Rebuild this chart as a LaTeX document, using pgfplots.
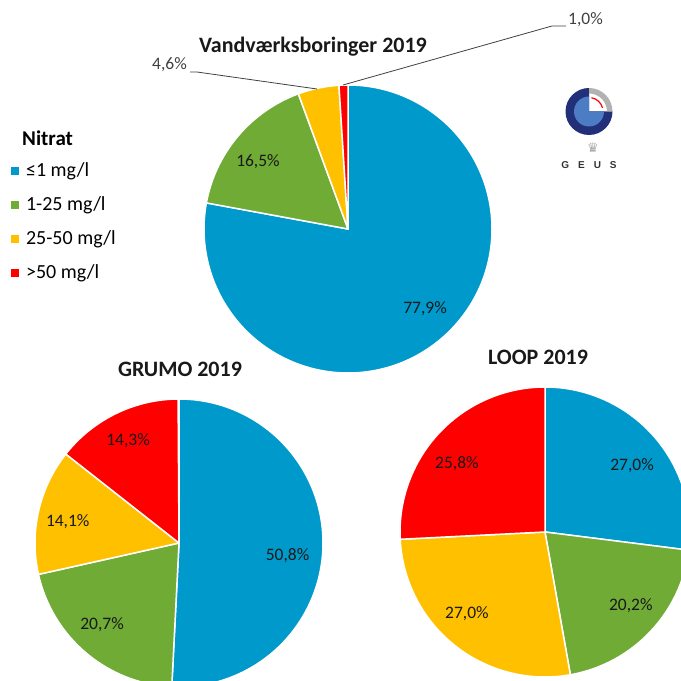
\documentclass[border=0pt]{standalone}
\usepackage{pgfplots}
\usepackage{pgfplotstable}
\usepackage{fontspec}
\setmainfont{Carlito}
\newfontfamily\geusfont{Liberation Sans}
\newfontfamily\symfont{DejaVu Sans}
\pgfplotsset{compat=1.18}

\definecolor{cLow}{HTML}{0099CC}
\definecolor{cMid}{HTML}{6FAB35}
\definecolor{cHigh}{HTML}{FFC000}
\definecolor{cTop}{HTML}{FF0000}
\definecolor{lead}{HTML}{404040}
\definecolor{geusnavy}{HTML}{22307A}
\definecolor{geusblue}{HTML}{4C7CC4}

\tikzset{
  pielabel/.style={font=\fontsize{17.5}{20}\selectfont, text height=0.63em,
    text depth=0pt, inner sep=0pt, text=black!90},
  charttitle/.style={font=\bfseries\fontsize{22}{26}\selectfont, text height=0.63em,
    text depth=0pt, inner sep=0pt, text=black!90},
}

% share in %, colour, shift of the label angle (deg), label radius (part of r, 0 = outside)
\pgfplotstableread{
v    col   shift  lr
77.9 cLow   3.8   0.776
16.5 cMid   3.9   0.775
4.6  cHigh  0     0
1.0  cTop   0     0
}\vandtab
\pgfplotstableread{
v    col   shift  lr
50.8 cLow  -6.0   0.76
20.7 cMid  -2.4   0.79
14.1 cHigh  2.6   0.785
14.3 cTop   0.7   0.785
}\grumotab
\pgfplotstableread{
v    col   shift  lr
27.0 cLow  -4.6   0.75
20.2 cMid   2.1   0.79
27.0 cHigh -4.7   0.786
25.8 cTop   6.3   0.763
}\looptab

% slices clockwise from 12 o'clock, as the spreadsheet draws them
\newcommand\drawpie[4]{% #1 table, #2 cx, #3 cy, #4 radius
  \pgfplotstablegetrowsof{#1}%
  \pgfmathtruncatemacro\pieN{\pgfplotsretval-1}%
  \def\pieA{90}%
  \pgfplotsforeachungrouped \k in {0,...,\pieN}{%
    \pgfplotstablegetelem{\k}{v}\of{#1}\let\pieV\pgfplotsretval
    \pgfplotstablegetelem{\k}{col}\of{#1}\let\pieC\pgfplotsretval
    \pgfplotstablegetelem{\k}{shift}\of{#1}\let\pieS\pgfplotsretval
    \pgfplotstablegetelem{\k}{lr}\of{#1}\let\pieL\pgfplotsretval
    \pgfmathsetmacro\pieB{\pieA-3.6*\pieV}%
    \edef\pietmp{\noexpand\fill[\pieC, draw=white, line width=1.5pt, line join=round]
      (axis cs:#2,#3) -- ++(\pieA:#4pt) arc[start angle=\pieA, end angle=\pieB, radius=#4pt] -- cycle;}%
    \pietmp
    \ifdim\pieL pt>0pt
      \pgfmathsetmacro\pieM{(\pieA+\pieB)/2+\pieS}%
      \pgfmathsetmacro\pieX{#2+\pieL*#4*cos(\pieM)}%
      \pgfmathsetmacro\pieY{#3+\pieL*#4*sin(\pieM)}%
      \edef\pietmp{\noexpand\node[pielabel] at (axis cs:\pieX,\pieY)
        {\noexpand\pgfmathprintnumber[fixed,fixed zerofill,precision=1,use comma,assume math mode=true]{\pieV}\noexpand\%};}%
      \pietmp
    \fi
    \let\pieA\pieB
  }%
}

\begin{document}
\begin{tikzpicture}
\begin{axis}[
    x=1pt, y=1pt,
    xmin=0, xmax=681, ymin=0, ymax=681,
    hide axis,
    clip=true,
    legend cell align=left,
    legend image code/.code={\fill[#1] (0pt,-3.5pt) rectangle (7pt,3.5pt);},
    legend style={draw=none, fill=none, at={(0.011,0.766)}, anchor=north west,
        font=\fontsize{20}{24}\selectfont, row sep=16.8pt, column sep=7pt,
        nodes={inner sep=1pt}},
]
\addlegendimage{cLow}\addlegendentry{≤1 mg/l}
\addlegendimage{cMid}\addlegendentry{1-25 mg/l}
\addlegendimage{cHigh}\addlegendentry{25-50 mg/l}
\addlegendimage{cTop}\addlegendentry{>50 mg/l}

\drawpie{\vandtab}{348}{452}{144}
\drawpie{\grumotab}{179}{138}{144}
\drawpie{\looptab}{545}{149}{145}

% labels of the two thin slices
\draw[lead, line width=0.8pt] (axis cs:190,609) -- (axis cs:197,609) -- (axis cs:317,592);
\node[pielabel, text=lead] at (axis cs:169.5,615) {4,6\%};
\draw[lead, line width=0.8pt] (axis cs:343,596) -- (axis cs:552,655) -- (axis cs:566,655);
\node[pielabel, text=lead] at (axis cs:585.5,660) {1,0\%};

\node[charttitle] at (axis cs:313,632) {Vandværksboringer 2019};
\node[charttitle] at (axis cs:180,308) {GRUMO 2019};
\node[charttitle] at (axis cs:538,320) {LOOP 2019};
\node[anchor=west, inner sep=0pt, font=\bfseries\fontsize{21}{24}\selectfont,
    text height=0.63em, text depth=0pt] at (axis cs:22,539) {Nitrat};

% GEUS logo
\fill[geusnavy] (axis cs:589,569.5) -- ++(90:23.5pt) arc[start angle=90, end angle=360, radius=23.5pt] -- cycle;
\fill[geusblue] (axis cs:589,569.5) -- ++(90:15pt) arc[start angle=90, end angle=360, radius=15pt] -- cycle;
\fill[gray!60] (axis cs:589,569.5) ++(18pt,0pt) -- ++(5.5pt,0pt)
    arc[start angle=0, end angle=90, radius=23.5pt] -- ++(0pt,-5.5pt)
    arc[start angle=90, end angle=0, radius=18pt] -- cycle;
\draw[red, line width=1.2pt] (axis cs:589,569.5) ++(15:14pt) arc[start angle=15, end angle=80, radius=14pt];
\node[text=gray!70, font=\symfont\fontsize{13}{13}\selectfont, inner sep=0pt,
    text height=0.7em, text depth=0pt] at (axis cs:593,532) {♛};
\node[text=black!80, font=\geusfont\bfseries\fontsize{10}{10}\selectfont, inner sep=0pt]
    at (axis cs:589,516) {G\hspace{9pt}E\hspace{9pt}U\hspace{9pt}S};
\end{axis}
\pgfresetboundingbox
\path[use as bounding box] (0,0) rectangle (681pt,681pt);
\end{tikzpicture}
\end{document}
